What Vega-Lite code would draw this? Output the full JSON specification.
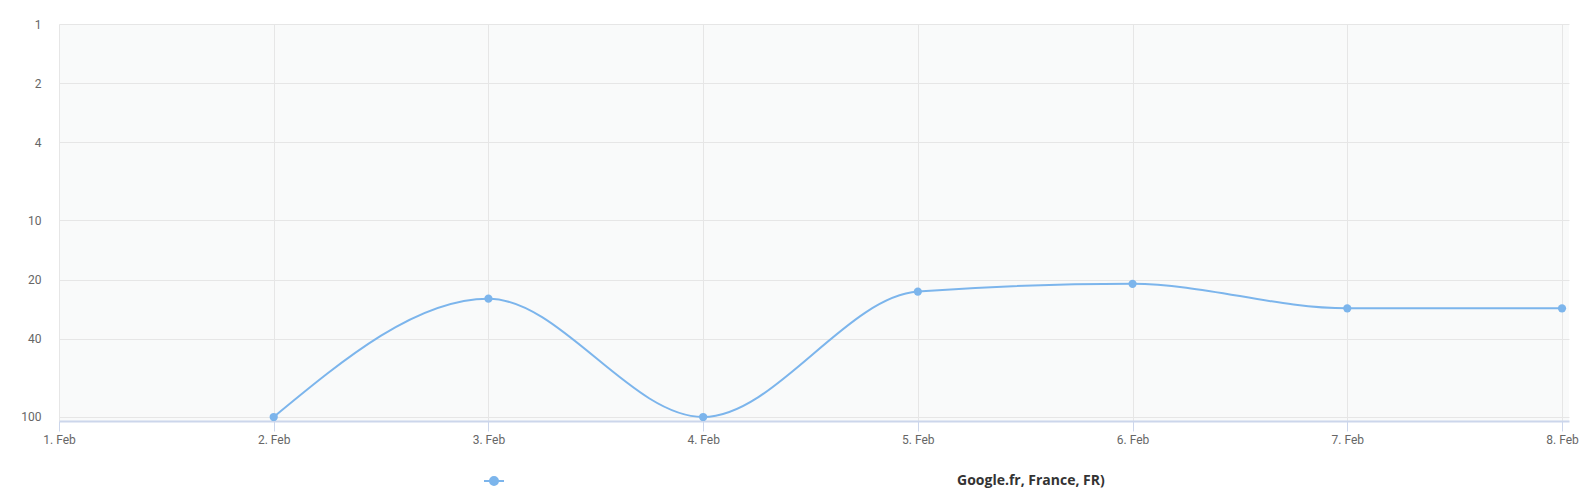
{
  "$schema": "https://vega.github.io/schema/vega-lite/v6.json",
  "width": 1510,
  "height": 397,
  "autosize": {"type": "none"},
  "padding": {"left": 59, "top": 24, "right": 13, "bottom": 79},
  "background": "#ffffff",
  "config": {"view": {"fill": "#f9fafa", "stroke": null}, "font": "Roboto"},
  "data": {
    "values": [
      {"date": "2024-02-02", "rank": 100, "series": "Google.fr, France, FR)"},
      {"date": "2024-02-03", "rank": 25, "series": "Google.fr, France, FR)"},
      {"date": "2024-02-04", "rank": 100, "series": "Google.fr, France, FR)"},
      {"date": "2024-02-05", "rank": 23, "series": "Google.fr, France, FR)"},
      {"date": "2024-02-06", "rank": 21, "series": "Google.fr, France, FR)"},
      {"date": "2024-02-07", "rank": 28, "series": "Google.fr, France, FR)"},
      {"date": "2024-02-08", "rank": 28, "series": "Google.fr, France, FR)"}
    ]
  },
  "encoding": {
    "x": {
      "field": "date",
      "type": "temporal",
      "scale": {
        "type": "utc",
        "nice": false,
        "domain": [
          {"year": 2024, "month": 2, "date": 1, "utc": true},
          {"year": 2024, "month": 2, "date": 8, "hours": 0, "minutes": 47, "utc": true}
        ]
      },
      "axis": {
        "title": null,
        "format": "%-d. %b",
        "tickCount": {"interval": "day", "step": 1},
        "grid": true,
        "gridColor": "#e6e6e6",
        "domainColor": "#ccd6eb",
        "domainWidth": 2,
        "tickColor": "#ccd6eb",
        "tickSize": 10,
        "labelPadding": 3,
        "labelColor": "#666666",
        "labelFontSize": 12,
        "labelFlush": false,
        "labelOverlap": false
      }
    },
    "y": {
      "field": "rank",
      "type": "quantitative",
      "scale": {"type": "log", "domain": [1, 104.8], "reverse": true, "nice": false},
      "axis": {
        "title": null,
        "values": [1, 2, 4, 10, 20, 40, 100],
        "format": "d",
        "grid": true,
        "gridColor": "#e6e6e6",
        "domain": false,
        "ticks": false,
        "tickSize": 0,
        "labelPadding": 18,
        "labelColor": "#666666",
        "labelFontSize": 12
      }
    },
    "color": {
      "field": "series",
      "type": "nominal",
      "scale": {"range": ["#7cb5ec"]},
      "legend": {
        "orient": "none",
        "legendX": 424,
        "legendY": 446,
        "title": null,
        "padding": 0,
        "symbolType": "M-1,0L1,0M0.4,0A0.4,0.4,0,1,1,-0.4,0A0.4,0.4,0,1,1,0.4,0Z",
        "symbolSize": 400,
        "symbolStrokeWidth": 2,
        "labelOffset": 452,
        "labelFont": "Open Sans",
        "labelFontSize": 14,
        "labelFontWeight": "bold",
        "labelColor": "#333333",
        "labelLimit": 0,
        "encode": {
          "symbols": {"update": {"fill": {"value": "#7cb5ec"}, "stroke": {"value": "#7cb5ec"}, "opacity": {"value": 1}}}
        }
      }
    }
  },
  "layer": [
    {"mark": {"type": "line", "interpolate": "monotone", "strokeWidth": 2}},
    {"mark": {"type": "point", "filled": true, "size": 68, "opacity": 1}}
  ]
}
